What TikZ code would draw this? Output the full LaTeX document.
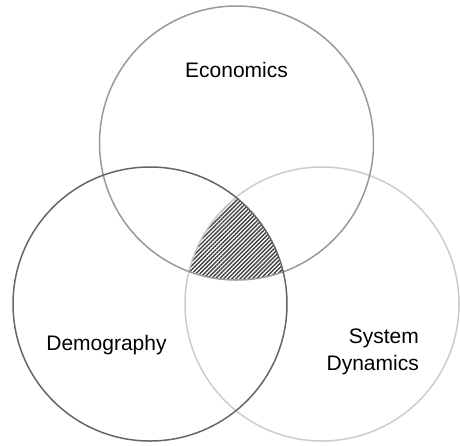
\documentclass[tikz,border=0pt]{standalone}
\usepackage{fontspec}
\setmainfont{Liberation Sans}
\usetikzlibrary{patterns.meta}
\tikzset{
  ring/.style={line width=1.5pt},
  setlabel/.style={font=\fontsize{21}{27}\selectfont, inner sep=0pt},
}

\begin{document}
\begin{tikzpicture}[x=1pt, y=-1pt]

  \newcommand\R{137pt};

  \useasboundingbox (0,0) rectangle (460,445);

  % centres of the three sets
  \coordinate (eco) at (236.5, 143);
  \coordinate (dem) at (150, 304);
  \coordinate (sys) at (322, 304);

  % shared part of all three
  \begin{scope}
    \clip (eco) circle[radius=\R];
    \clip (dem) circle[radius=\R];
    \fill[pattern={Lines[angle=45, distance=2.9pt, line width=1.4pt]}, pattern color=black!75]
      (sys) circle[radius=\R];
  \end{scope}

  \draw[ring, black!20] (sys) circle[radius=\R]; % system dynamics
  \draw[ring, black!40] (eco) circle[radius=\R]; % economics
  \draw[ring, black!60] (dem) circle[radius=\R]; % demography

  \node[setlabel, anchor=base] (ecolabel) at (236.5, 77) {Economics};
  \node[setlabel, anchor=base] (demlabel) at (106.5, 350) {Demography};
  \node[setlabel, align=right, anchor=base east] (syslabel) at (419, 370) {System\\Dynamics};

\end{tikzpicture}
\end{document}
